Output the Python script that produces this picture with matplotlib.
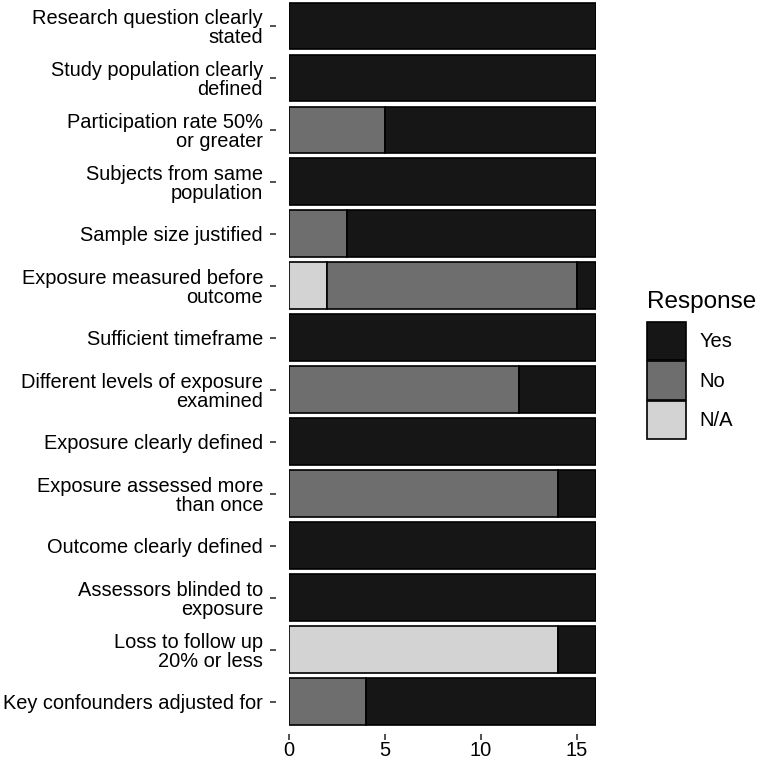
import matplotlib
matplotlib.use("Agg")
import matplotlib.pyplot as plt
from matplotlib.patches import Patch
import numpy as np

plt.rcParams['font.family'] = ['Liberation Sans', 'DejaVu Sans']

categories = [
    "Research question clearly\nstated",
    "Study population clearly\ndefined",
    "Participation rate 50%\nor greater",
    "Subjects from same\npopulation",
    "Sample size justified",
    "Exposure measured before\noutcome",
    "Sufficient timeframe",
    "Different levels of exposure\nexamined",
    "Exposure clearly defined",
    "Exposure assessed more\nthan once",
    "Outcome clearly defined",
    "Assessors blinded to\nexposure",
    "Loss to follow up\n20% or less",
    "Key confounders adjusted for",
]
na_vals  = [0, 0, 0, 0, 0, 2, 0, 0, 0, 0, 0, 0, 14, 0]
no_vals  = [0, 0, 5, 0, 3, 13, 0, 12, 0, 14, 0, 0, 0, 4]
yes_vals = [16, 16, 11, 16, 13, 1, 16, 4, 16, 2, 16, 16, 2, 12]
x_ticks = [0, 5, 10, 15]

colors = {"Yes": "#161616", "No": "#6e6e6e", "N/A": "#d3d3d3"}

px = 72 / 100  # points per pixel at dpi 100

fig = plt.figure(figsize=(7.62, 7.60), dpi=100)
ax = fig.add_axes([289/762, 1 - 727.5/760, 307/762, 727.5/760])

for s in ax.spines.values():
    s.set_visible(False)
ax.spines['left'].set_position(('outward', 13 * px))
ax.spines['bottom'].set_position(('outward', 6 * px))

y = np.arange(len(categories))
left = np.zeros(len(categories))
for name, vals in [("N/A", na_vals), ("No", no_vals), ("Yes", yes_vals)]:
    vals = np.array(vals, dtype=float)
    mask = vals > 0
    ax.barh(y[mask], vals[mask], left=left[mask], height=0.9,
            color=colors[name], edgecolor="black", linewidth=1.2)
    left += vals

ax.set_xlim(0, 16)
ax.set_ylim(len(categories) - 0.5, -0.5)
ax.set_yticks(y)
ax.set_yticklabels(categories, fontsize=14.4, linespacing=1.0, color="black")
ax.set_xticks(x_ticks)
ax.set_xticklabels([str(t) for t in x_ticks], fontsize=14.4, color="black")
ax.tick_params(axis='y', direction='out', length=6 * px, width=1.1, pad=7 * px, color="#222222")
ax.tick_params(axis='x', direction='out', length=6 * px, width=1.1, pad=1 * px, color="#222222")
ax.set_facecolor("white")

fig.text(647/762, 1 - 302/760, "Response", fontsize=17.5, ha="left", va="center")
handles = [Patch(facecolor=colors[k], edgecolor="black", linewidth=1.2, label=k)
           for k in ["Yes", "No", "N/A"]]
leg = fig.legend(handles=handles, loc="upper left", bbox_to_anchor=(647/762, 1 - 322/760),
                 frameon=False, fontsize=14.5,
                 handlelength=1.95, handleheight=2.55, labelspacing=0.05,
                 handletextpad=0.65, borderpad=0, borderaxespad=0)

fig.savefig("out.png", dpi=100, facecolor="white")
